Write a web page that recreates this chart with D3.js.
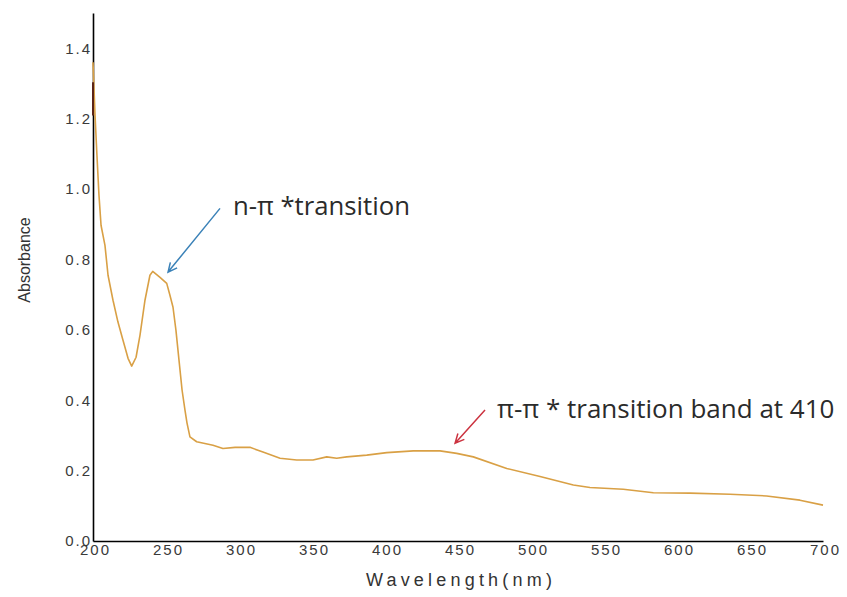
<!DOCTYPE html>
<html>
<head>
<meta charset="utf-8">
<script src="https://cdn.jsdelivr.net/npm/d3@7"></script>
<style>
  html, body { margin: 0; padding: 0; background: #fff; }
  svg { display: block; }
</style>
</head>
<body>
<svg id="chart" width="847" height="597"></svg>
<script>
// ---- Data ----
const wavelength = [200, 201.4, 202.7, 204.1, 205.5, 208.2, 210.3, 213.7, 217.1, 220.5, 224.0,
  226.5, 229.5, 232.2, 235.6, 239.0, 240.9, 245.9, 250.5, 252.7, 254.8, 256.8, 258.9, 261.0,
  263.0, 264.4, 266.4, 271.0, 282.2, 289.0, 297.3, 307.5, 316.4, 328.1, 339.5, 350.7, 360.1,
  366.9, 373.8, 387.5, 401.2, 419.4, 437.7, 449.1, 460.5, 483.4, 506.2, 529.0, 540.4, 563.2,
  583.8, 608.9, 636.3, 661.4, 684.2, 700];
const absorbance = [1.36, 1.209, 1.096, 0.982, 0.897, 0.840, 0.755, 0.684, 0.622, 0.571, 0.519,
  0.497, 0.522, 0.585, 0.684, 0.755, 0.766, 0.749, 0.732, 0.698, 0.664, 0.599, 0.514, 0.429,
  0.372, 0.335, 0.296, 0.282, 0.272, 0.263, 0.266, 0.266, 0.253, 0.235, 0.230, 0.230, 0.239,
  0.235, 0.239, 0.244, 0.251, 0.256, 0.256, 0.249, 0.239, 0.206, 0.183, 0.159, 0.152, 0.147,
  0.137, 0.136, 0.133, 0.128, 0.116, 0.102];
// short dark segment visible at the start of the scan
const darkWavelength = [200, 200];
const darkAbsorbance = [1.303, 1.209];

const xTicks = [200, 250, 300, 350, 400, 450, 500, 550, 600, 650, 700];
const yTicks = [0.0, 0.2, 0.4, 0.6, 0.8, 1.0, 1.2, 1.4];

const xTitle = "Wavelength(nm)";
const yTitle = "Absorbance";

// annotations: text, text anchor (λ, A), arrow tail (λ, A), arrow tip (λ, A)
const annoLabels = ["n-π *transition", "π-π * transition band at 410"];
const annoText = [[295.9, 0.925], [476.7, 0.349]];
const annoTail = [[287.0, 0.945], [468.5, 0.372]];
const annoTip = [[251.4, 0.764], [448.0, 0.278]];
const annoEnd = [410, 836];           // right edge of each label (px) in the reference
const annoColors = ["#3b82b8", "#cc3340"];

// ---- Layout ----
const svg = d3.select("#chart");
const x = d3.scaleLinear().domain([200, 700]).range([93, 823]);
const y = d3.scaleLinear().domain([0, 1.5]).range([541, 13]);

const tickFont = "'Liberation Sans', Arial, sans-serif";
const LS = 2;

// Y axis
const gy = svg.append("g").attr("transform", `translate(${x(200)},0)`)
  .call(d3.axisLeft(y).tickValues(yTicks).tickSize(0).tickSizeOuter(0).tickPadding(3)
    .tickFormat(d3.format(".1f")));
gy.select(".domain").attr("stroke", "#000").attr("stroke-width", 1.6);
gy.selectAll("text").attr("font-family", tickFont).attr("font-size", 15)
  .attr("fill", "#3a3a3a").attr("letter-spacing", LS).attr("dx", LS);

// X axis
const gx = svg.append("g").attr("transform", `translate(0,${y(0)})`)
  .call(d3.axisBottom(x).tickValues(xTicks).tickSize(0).tickSizeOuter(0).tickPadding(3.5));
gx.select(".domain").attr("stroke", "#000").attr("stroke-width", 1.6);
gx.selectAll("text").attr("font-family", tickFont).attr("font-size", 15)
  .attr("fill", "#3a3a3a").attr("letter-spacing", LS).attr("dx", LS / 2 + 1);

// Axis titles
svg.append("text").attr("x", 461).attr("y", 586).attr("text-anchor", "middle")
  .attr("font-family", tickFont).attr("font-size", 18).attr("letter-spacing", 4.2)
  .attr("fill", "#333").text(xTitle);
svg.append("text").attr("transform", "translate(30,260) rotate(-90)").attr("text-anchor", "middle")
  .attr("font-family", tickFont).attr("font-size", 16).attr("fill", "#333").text(yTitle);

// Spectrum line
const pts = wavelength.map((w, i) => [w, absorbance[i]]);
const line = d3.line().x(d => x(d[0])).y(d => y(d[1]));
svg.append("path").datum(pts).attr("d", line).attr("fill", "none")
  .attr("stroke", "#d9a045").attr("stroke-width", 1.6).attr("stroke-linejoin", "round");
const darkPts = darkWavelength.map((w, i) => [w, darkAbsorbance[i]]);
svg.append("path").datum(darkPts).attr("d", line).attr("fill", "none")
  .attr("stroke", "#5b2418").attr("stroke-width", 2);

// Annotations
annoLabels.forEach((label, i) => {
  const t = [x(annoTail[i][0]), y(annoTail[i][1])];
  const p = [x(annoTip[i][0]), y(annoTip[i][1])];
  const ang = Math.atan2(t[1] - p[1], t[0] - p[0]);
  const hl = 10, spread = 0.45;
  const h1 = [p[0] + hl * Math.cos(ang + spread), p[1] + hl * Math.sin(ang + spread)];
  const h2 = [p[0] + hl * Math.cos(ang - spread), p[1] + hl * Math.sin(ang - spread)];
  svg.append("path")
    .attr("d", `M${t[0]},${t[1]}L${p[0]},${p[1]}M${h1[0]},${h1[1]}L${p[0]},${p[1]}L${h2[0]},${h2[1]}`)
    .attr("fill", "none").attr("stroke", annoColors[i]).attr("stroke-width", 1.5);
  const tx = x(annoText[i][0]);
  const txt = svg.append("text").attr("x", tx).attr("y", y(annoText[i][1]))
    .attr("font-family", "'Open Sans', 'Noto Sans', sans-serif").attr("font-size", 20)
    .attr("fill", "#2b2b2b").text(label);
  const w = txt.node().getComputedTextLength();
  const fs = Math.min(26, 20 * (annoEnd[i] - tx) / w);
  txt.attr("font-size", fs);
});
</script>
</body>
</html>
